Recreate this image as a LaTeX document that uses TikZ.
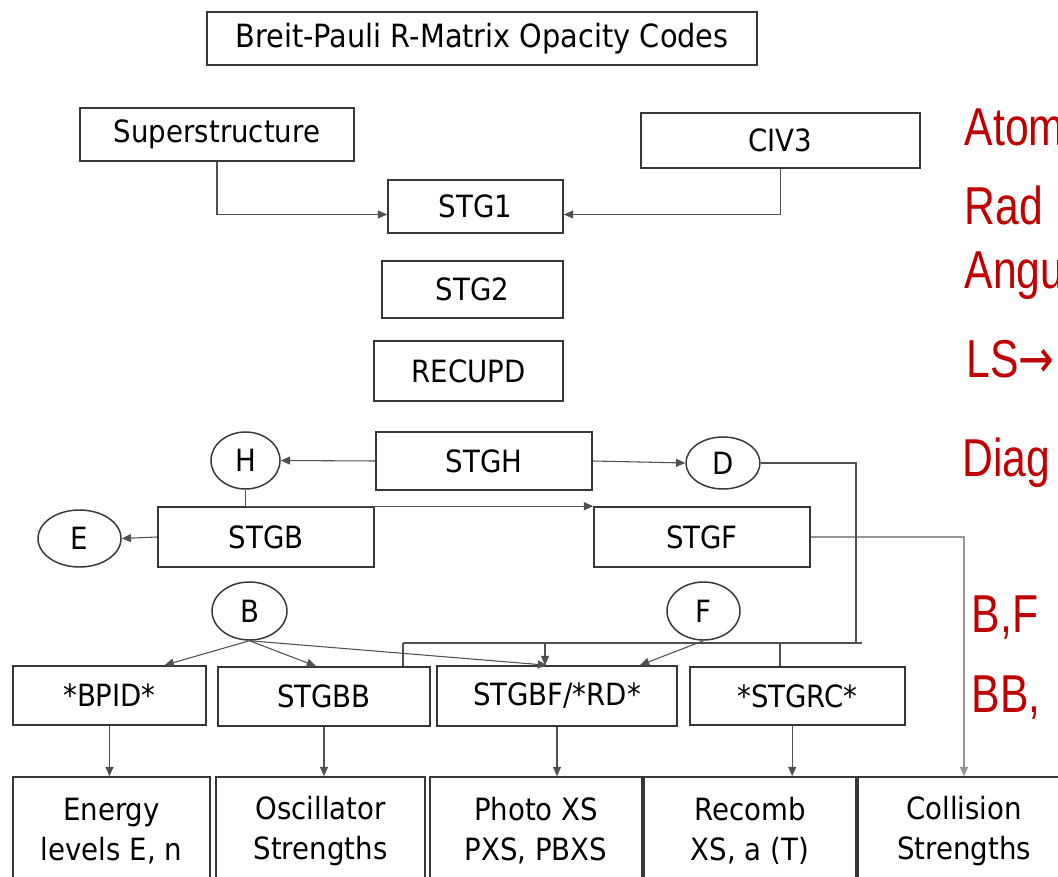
\documentclass[tikz,border=0pt]{standalone}
\usepackage{fontspec}
\setmainfont{DejaVu Sans}[FakeStretch=0.9]
\newfontfamily\notefont{Liberation Sans}[FakeStretch=0.8]
\newfontfamily\arrowfont{DejaVu Sans}[FakeStretch=0.8]
\usetikzlibrary{arrows.meta,positioning,calc,shapes.geometric}
\definecolor{BoxGray}{RGB}{55,55,55}
\definecolor{LineGray}{RGB}{80,80,80}
\definecolor{LightGray}{RGB}{150,150,150}
\definecolor{NoteRed}{RGB}{192,0,0}

\begin{document}
\begin{tikzpicture}[x=0.75pt, y=-0.75pt,
    box/.style={draw=BoxGray, line width=1.2pt, inner sep=0pt, font=\fontsize{23}{30}\selectfont},
    bubble/.style={ellipse, draw=BoxGray, line width=1.1pt, inner sep=0pt, font=\fontsize{23}{30}\selectfont},
    conn/.style={draw=LineGray, line width=0.8pt},
    arr/.style={conn, -{Triangle[length=7pt,width=6pt]}},
    note/.style={anchor=base west, text=NoteRed, font=\notefont\fontsize{40}{40}\selectfont}]
      \useasboundingbox (0,0) rectangle (1058,877);
      \clip (0,0) rectangle (1058,877);
      \fill[white] (0,0) rectangle (1058,877);
      % upper chain
      \node[box, minimum width=412.5pt, minimum height=39.75pt, font=\fontsize{24}{30}\selectfont] (title) at (482,38.5) {Breit-Pauli R-Matrix Opacity Codes};
      \node[box, minimum width=205.5pt, minimum height=39.75pt] (super) at (217,134.5) {Superstructure};
      \node[box, minimum width=209.25pt, minimum height=41.25pt] (civ) at (780.5,140.5) {CIV3};
      \node[box, minimum width=131.25pt, minimum height=39.75pt] (stg1) at (475.5,206.5) {STG1};
      \node[box, minimum width=135.75pt, minimum height=42.75pt] (stg2) at (472.5,289.5) {STG2};
      \node[box, minimum width=141.75pt, minimum height=45pt] (recupd) at (468.5,371) {RECUPD};
      \node[box, minimum width=162pt, minimum height=43.5pt] (stgh) at (484,461) {STGH};
      \node[bubble, minimum width=51.75pt, minimum height=42.75pt] (H) at (245.5,460.5) {H};
      \node[bubble, minimum width=55.5pt, minimum height=39pt] (D) at (723,463) {D};
      \node[box, minimum width=162pt, minimum height=45pt] (stgb) at (266,537) {STGB};
      \node[box, minimum width=162pt, minimum height=45pt] (stgf) at (702,537) {STGF};
      \node[bubble, minimum width=62.25pt, minimum height=42.75pt] (E) at (79.5,538.5) {E};
      \node[bubble, minimum width=56.25pt, minimum height=43.5pt] (B) at (249.5,611) {B};
      \node[bubble, minimum width=54.75pt, minimum height=43.5pt] (F) at (703.5,611) {F};
      % second stage
      \node[box, minimum width=144.75pt, minimum height=44.25pt] (bpid) at (109.5,695.5) {*BPID*};
      \node[box, minimum width=159pt, minimum height=44.25pt] (stgbb) at (324,696.5) {STGBB};
      \node[box, minimum width=180pt, minimum height=45pt] (stgbf) at (557,696) {STGBF/*RD*};
      \node[box, minimum width=161.25pt, minimum height=43.5pt] (stgrc) at (797.5,696) {*STGRC*};
      % results
      \node[box, align=center, minimum width=147.75pt, minimum height=81pt] (energy) at (111.5,831) {Energy\\levels E, n};
      \node[box, align=center, minimum width=156.75pt, minimum height=81pt] (osc) at (320.5,831) {Oscillator\\Strengths};
      \node[box, align=center, minimum width=159pt, minimum height=81pt] (photo) at (536,831) {Photo XS\\PXS, PBXS};
      \node[box, align=center, minimum width=159pt, minimum height=81pt] (recomb) at (750,831) {Recomb\\XS, a (T)};
      \node[box, align=center, minimum width=159pt, minimum height=81pt] (coll) at (964,831) {Collision\\Strengths};
      % connectors
      \draw[arr] (super.south) |- ([yshift=-6pt]stg1.west);
      \draw[arr] (civ.south) |- ([yshift=-6pt]stg1.east);
      \draw[arr] (stgh.west) -- (H.east);
      \draw[arr] (stgh.east) -- (D.west);
      \draw[arr] (H.south) |- (stgf.north west);
      \draw[arr] (stgb.west) -- (E.east);
      \draw[arr, draw=LightGray, line width=1.1pt] (stgf.east) -| (coll.north);
      \coordinate (dbend) at (856,643);
      \coordinate (busL) at (403,643);
      \coordinate (busM) at (545,643);
      \coordinate (busN) at (780,643);
      \coordinate (busR) at (862,643);
      \draw[conn] (D.east) -| (dbend);
      \draw[conn] (busL) -- (busR);
      \draw[conn] (busL) -- (busL |- stgbb.north);
      \draw[arr] (busM) -- (busM |- stgbf.north);
      \draw[conn] (busN) -- (busN |- stgrc.north);
      \draw[arr] (B.south) -- ($(bpid.north)+(55,0)$);
      \draw[arr] (B.south) -- ($(stgbb.north)+(-8,0)$);
      \draw[arr] (B.south) -- ($(stgbf.north)+(-10,0)$);
      \draw[arr] (F.south) -- ($(stgbf.north)+(83,0)$);
      \draw[arr] (bpid.south) -- (bpid.south |- energy.north);
      \draw[arr] (stgbb.south) -- (stgbb.south |- osc.north);
      \draw[arr] (stgbf.south) -- (stgbf.south |- photo.north);
      \draw[arr] ([xshift=-4pt]stgrc.south) -- ([xshift=-4pt]stgrc.south |- recomb.north);
      % notes on the right
      \node[note] (n1) at (960,146) {Atom};
      \node[note] (n2) at (960,225) {Rad};
      \node[note] (n3) at (960,289) {Angu};
      \node[note] (n4) at (962,378) {LS{\arrowfont →}};
      \node[note] (n5) at (958,477) {Diag};
      \node[note] (n6) at (967,632) {B,F};
      \node[note] (n7) at (967,712) {BB,};
    \end{tikzpicture}
\end{document}
